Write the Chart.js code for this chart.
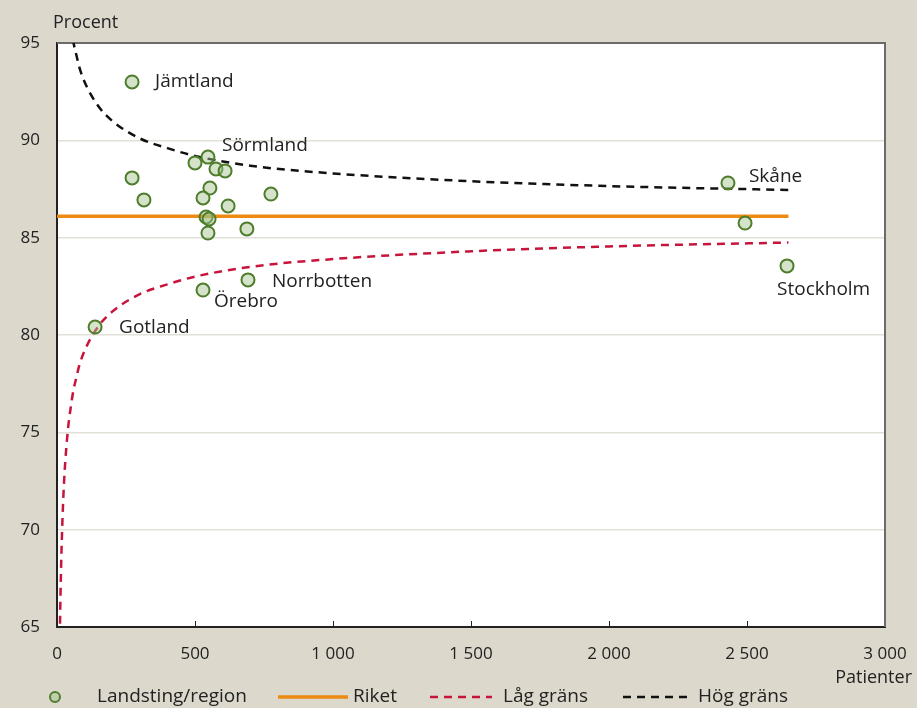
<!DOCTYPE html>
<html lang="sv">
<head>
<meta charset="utf-8">
<title>Landsting/region – andel i procent</title>
<script src="https://cdn.jsdelivr.net/npm/chart.js@4.4.1/dist/chart.umd.min.js"></script>
<style>
  html, body { margin: 0; padding: 0; background: #dcd9cc; }
  #wrap { position: relative; width: 917px; height: 708px; }
</style>
</head>
<body>
<div id="wrap"><canvas id="funnel"></canvas></div>
<script>
// ─── DATA ──────────────────────────────────────────────────
const regionNames = ['Jämtland', 'Sörmland', '', '', '', '', '', '', '', '', '', '', '', '', '', 'Norrbotten', 'Örebro', 'Gotland', 'Skåne', '', 'Stockholm'];
const patients    = [272, 547, 500, 576, 609, 272, 315, 554, 529, 775, 620, 540, 551, 547, 688, 692, 529, 138, 2431, 2493, 2645];
const percent     = [93.0, 89.14, 88.84, 88.53, 88.43, 88.07, 86.94, 87.55, 87.04, 87.24, 86.63, 86.06, 85.96, 85.24, 85.45, 82.83, 82.31, 80.41, 87.81, 85.75, 83.55];

const riketPatients = [0, 2650];
const riket         = [86.1, 86.1];

const lowPatients = [9, 12, 15, 20, 25, 30, 40, 50, 60, 70, 80, 100, 150, 200, 300, 400, 500, 700, 1000, 1500, 2000, 2650];
const lowLimit    = [63.0, 66.1, 68.2, 70.6, 72.3, 73.5, 75.2, 76.3, 77.2, 77.8, 78.4, 79.2, 80.45, 81.2, 82.1, 82.6, 83.0, 83.5, 83.9, 84.3, 84.55, 84.75];

const highPatients = [50, 60, 70, 80, 100, 150, 200, 300, 400, 500, 700, 1000, 1500, 2000, 2650];
const highLimit    = [95.9, 95.0, 94.4, 93.8, 93.0, 91.75, 91.0, 90.1, 89.6, 89.2, 88.7, 88.3, 87.9, 87.65, 87.45];

const xTicks = [0, 500, 1000, 1500, 2000, 2500, 3000];
const yTicks = [65, 70, 75, 80, 85, 90, 95];

const pairs = (xs, ys) => xs.map((x, i) => ({ x, y: ys[i] }));

// ─── STYLE ─────────────────────────────────────────────────
const FONT   = '"Open Sans", "DejaVu Sans", sans-serif';
const INK    = '#222';
const GREEN  = '#4e7d2c';
const FILL   = 'rgba(160,192,138,0.45)';
const ORANGE = '#ec8a12';
const RED    = '#c8143c';

// label offsets for the named regions (px from the marker centre)
const labelOffsets = {
  'Jämtland':   [23, 0],
  'Sörmland':   [14, -11],
  'Norrbotten': [24, 2],
  'Örebro':     [11, 12],
  'Gotland':    [24, 1],
  'Skåne':      [21, -6],
  'Stockholm':  [-10, 24],
};

// ─── PLUGIN: plot background, frame, inward ticks, labels, legend ───
const decorations = {
  id: 'decorations',
  beforeDraw(chart) {
    const { ctx, chartArea: a } = chart;
    ctx.save();
    ctx.fillStyle = '#fff';
    ctx.fillRect(a.left, a.top, a.right - a.left, a.bottom - a.top);
    ctx.restore();
  },
  beforeDatasetsDraw(chart) {
    const { ctx, chartArea: a, scales: { x } } = chart;
    ctx.save();
    ctx.strokeStyle = '#6b6b6b';
    ctx.lineWidth = 2;
    ctx.beginPath();
    ctx.moveTo(a.left, a.top);
    ctx.lineTo(a.right, a.top);
    ctx.lineTo(a.right, a.bottom);
    ctx.stroke();
    // short tick marks pointing into the plot
    ctx.strokeStyle = INK;
    ctx.lineWidth = 1;
    xTicks.slice(1, -1).forEach(v => {
      const px = Math.round(x.getPixelForValue(v)) + 0.5;
      ctx.beginPath();
      ctx.moveTo(px, a.bottom);
      ctx.lineTo(px, a.bottom - 6);
      ctx.stroke();
    });
    ctx.restore();
  },
  afterDraw(chart) {
    const { ctx, scales: { x, y } } = chart;
    ctx.save();
    ctx.fillStyle = INK;
    ctx.font = `19px ${FONT}`;
    ctx.textBaseline = 'middle';

    // region names
    regionNames.forEach((name, i) => {
      if (!name) return;
      const [dx, dy] = labelOffsets[name];
      ctx.textAlign = 'left';
      ctx.fillText(name, x.getPixelForValue(patients[i]) + dx, y.getPixelForValue(percent[i]) + dy);
    });

    // axis titles
    ctx.font = `18px ${FONT}`;
    ctx.textAlign = 'left';
    ctx.fillText('Procent', 53, 23);
    ctx.textAlign = 'right';
    ctx.fillText('Patienter', 912, 678);

    // legend
    const ly = 697;
    ctx.font = `19px ${FONT}`;
    ctx.textAlign = 'left';
    ctx.lineWidth = 2;
    ctx.strokeStyle = GREEN;
    ctx.fillStyle = FILL;
    ctx.beginPath();
    ctx.arc(55, ly, 5, 0, Math.PI * 2);
    ctx.fill();
    ctx.stroke();

    const legendLine = (x0, x1, color, width, dash) => {
      ctx.strokeStyle = color;
      ctx.lineWidth = width;
      ctx.setLineDash(dash);
      ctx.beginPath();
      ctx.moveTo(x0, ly);
      ctx.lineTo(x1, ly);
      ctx.stroke();
      ctx.setLineDash([]);
    };
    legendLine(278, 348, ORANGE, 3.5, []);
    legendLine(430, 492, RED, 2.5, [8, 6]);
    legendLine(623, 688, '#111', 2.5, [8, 6]);

    ctx.fillStyle = INK;
    ctx.fillText('Landsting/region', 97, ly);
    ctx.fillText('Riket', 353, ly);
    ctx.fillText('Låg gräns', 503, ly);
    ctx.fillText('Hög gräns', 698, ly);
    ctx.restore();
  },
};

// ─── CHART ─────────────────────────────────────────────────
const canvas = document.getElementById('funnel');
canvas.width = 917;
canvas.height = 708;

new Chart(canvas, {
  type: 'scatter',
  data: {
    datasets: [
      {
        label: 'Landsting/region',
        data: pairs(patients, percent),
        pointRadius: 6.5,
        pointHoverRadius: 6.5,
        pointBorderWidth: 2,
        pointBackgroundColor: FILL,
        pointBorderColor: GREEN,
        showLine: false,
      },
      {
        label: 'Riket',
        data: pairs(riketPatients, riket),
        showLine: true,
        borderColor: ORANGE,
        borderWidth: 3.5,
        pointRadius: 0,
      },
      {
        label: 'Låg gräns',
        data: pairs(lowPatients, lowLimit),
        showLine: true,
        borderColor: RED,
        borderWidth: 2.5,
        borderDash: [8, 6],
        cubicInterpolationMode: 'monotone',
        pointRadius: 0,
      },
      {
        label: 'Hög gräns',
        data: pairs(highPatients, highLimit),
        showLine: true,
        borderColor: '#111',
        borderWidth: 2.5,
        borderDash: [8, 6],
        cubicInterpolationMode: 'monotone',
        pointRadius: 0,
      },
    ],
  },
  options: {
    responsive: false,
    animation: false,
    devicePixelRatio: 1,
    layout: { padding: { top: 43, right: 32, bottom: 0, left: 0 } },
    plugins: { legend: { display: false }, tooltip: { enabled: false }, title: { display: false } },
    scales: {
      x: {
        type: 'linear',
        min: 0,
        max: 3000,
        afterBuildTicks: s => { s.ticks = xTicks.map(value => ({ value })); },
        afterFit: s => { s.height = 81; s.paddingLeft = 0; s.paddingRight = 0; },
        grid: { display: false, drawTicks: false },
        border: { display: true, color: INK, width: 2 },
        ticks: {
          padding: 17,
          color: INK,
          font: { family: FONT, size: 17 },
          maxRotation: 0,
          callback: v => String(v).replace(/\B(?=(\d{3})+(?!\d))/g, ' '),
        },
      },
      y: {
        min: 65,
        max: 95,
        afterBuildTicks: s => { s.ticks = yTicks.map(value => ({ value })); },
        afterFit: s => { s.width = 57; s.paddingTop = 0; s.paddingBottom = 0; },
        grid: {
          drawTicks: false,
          lineWidth: 1.5,
          color: c => (c.tick && (c.tick.value === 65 || c.tick.value === 95)) ? 'rgba(0,0,0,0)' : '#e3e0d8',
        },
        border: { display: true, color: INK, width: 2 },
        ticks: {
          padding: 17,
          color: INK,
          font: { family: FONT, size: 17 },
        },
      },
    },
  },
  plugins: [decorations],
});
</script>
</body>
</html>
